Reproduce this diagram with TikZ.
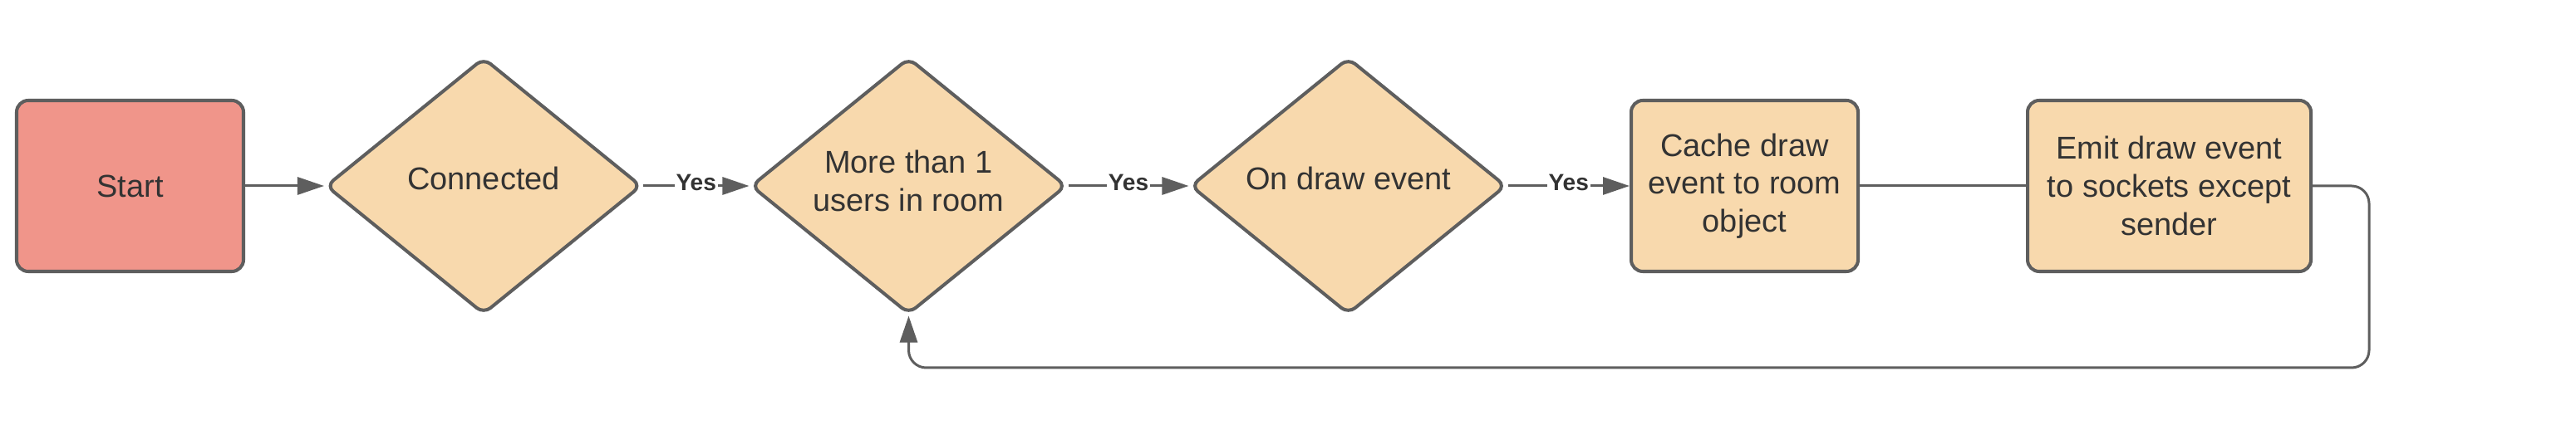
\documentclass[tikz,border=0pt]{standalone}
\usepackage{fontspec}
\setmainfont{Liberation Sans}
\usetikzlibrary{shapes.geometric, arrows.meta}
\definecolor{startred}{HTML}{F0958A}
\definecolor{stepfill}{HTML}{F8D9AD}
\definecolor{linegray}{HTML}{5E5E5E}
\definecolor{textgray}{HTML}{333333}

\begin{document}
\begin{tikzpicture}[
    process/.style={draw=linegray, line width=1.15pt, rounded corners=4pt, fill=stepfill,
        minimum height=2.06cm, align=center, inner sep=0pt},
    decision/.style={diamond, aspect=1.23, draw=linegray, line width=1.15pt, rounded corners=3pt, fill=stepfill,
        minimum width=3.80cm, minimum height=3.09cm, align=center, inner sep=0pt, text depth=0.18cm},
    flow/.style={draw=linegray, line width=0.85pt, -{Triangle[length=3.2mm, width=2.1mm]}},
    yes/.style={fill=white, inner sep=0.5pt, yshift=0.4mm, font=\bfseries\fontsize{8}{9}\selectfont},
    every node/.style={text=textgray, font=\fontsize{10.8}{13}\selectfont}]

    \useasboundingbox (0,0) rectangle (31,-5.18);

    \node[process, fill=startred, minimum width=2.73cm] (start) at (1.565,-2.24) {Start};
    \node[decision] (connected) at (5.82,-2.24) {Connected};
    \node[decision, text depth=0.12cm] (users) at (10.935,-2.24) {More than 1\\users in room};
    \node[decision] (drawevent) at (16.225,-2.24) {On draw event};
    \node[process, minimum width=2.73cm] (cache) at (20.995,-2.24) {Cache draw\\event to room\\object};
    \node[process, minimum width=3.41cm] (emit) at (26.105,-2.24) {Emit draw event\\to sockets except\\sender};
    \coordinate (loop) at (28.51,-4.43);

    \draw[flow] (start) -- (connected);
    \draw[flow] (connected) -- node[yes] {Yes} (users);
    \draw[flow] (users) -- node[yes] {Yes} (drawevent);
    \draw[flow] (drawevent) -- node[yes] {Yes} (cache);
    \draw[draw=linegray, line width=0.85pt] (cache) -- (emit);
    \draw[flow, rounded corners=6pt] (emit.east) -| (loop) -| (users.south);
\end{tikzpicture}
\end{document}
